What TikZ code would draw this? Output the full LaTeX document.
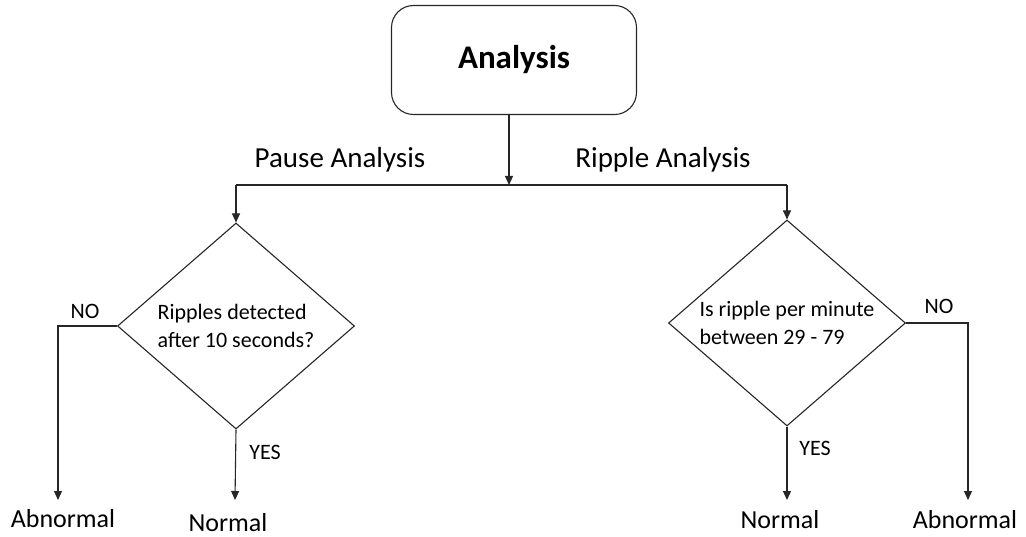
\documentclass[tikz,border=0pt]{standalone}
\usepackage{fontspec}
\setmainfont{Carlito}
\usetikzlibrary{shapes.geometric,arrows.meta}

\begin{document}
\begin{tikzpicture}[x=1pt,y=-1pt,->,>={Triangle[length=9pt,width=8pt]},line width=1.1pt,draw=black!85,
    start node/.style={rectangle,rounded corners=22pt,draw,minimum width=245pt,minimum height=109pt,font=\fontsize{33}{36}\selectfont\bfseries},
    decision node/.style={diamond,draw,aspect=1.15,minimum width=237pt,minimum height=206pt,inner sep=0pt,align=left,font=\fontsize{22}{28}\selectfont},
    result node/.style={font=\fontsize{26}{30}\selectfont},
    branch node/.style={font=\fontsize{29}{34}\selectfont},
    answer node/.style={font=\fontsize{22}{26}\selectfont}]
    \useasboundingbox (0,0) rectangle (1026,537);

    \node[start node] (analysis) at (514,60) {Analysis};
    \coordinate (split) at (509,185);
    \node[decision node] (pause) at (236,326) {Ripples detected\\after 10 seconds?};
    \node[decision node] (ripple) at (787,323) {Is ripple per minute\\between 29 - 79};

    \node[result node] (pabnormal) at (63,519) {Abnormal};
    \node[result node] (pnormal) at (228,523) {Normal};
    \node[result node] (rnormal) at (780,520) {Normal};
    \node[result node] (rabnormal) at (965,520) {Abnormal};

    \coordinate (pno) at (58,500);
    \coordinate (pyes) at (235,500);
    \coordinate (ryes) at (787,500);
    \coordinate (rno) at (968,500);

    \node[branch node] (pauselabel) at (340,160) {Pause Analysis};
    \node[branch node] (ripplelabel) at (663,160) {Ripple Analysis};
    \node[answer node] (pnolabel) at (85,311) {NO};
    \node[answer node] (pyeslabel) at (265,452) {YES};
    \node[answer node] (rnolabel) at (939,306) {NO};
    \node[answer node] (ryeslabel) at (815,448) {YES};

    \draw (analysis.south -| split) -- (split);
    \draw[-] (split) -- (split -| ripple.north);
    \draw[-] (split) -- (split -| pause.north);
    \draw (split -| pause.north) -- (pause.north);
    \draw (split -| ripple.north) -- (ripple.north);

    \draw (pause.west) -| (pno);
    \draw (pause.south) -- (pyes);
    \draw (ripple.south) -- (ryes);
    \draw (ripple.east) -| (rno);
\end{tikzpicture}
\end{document}
